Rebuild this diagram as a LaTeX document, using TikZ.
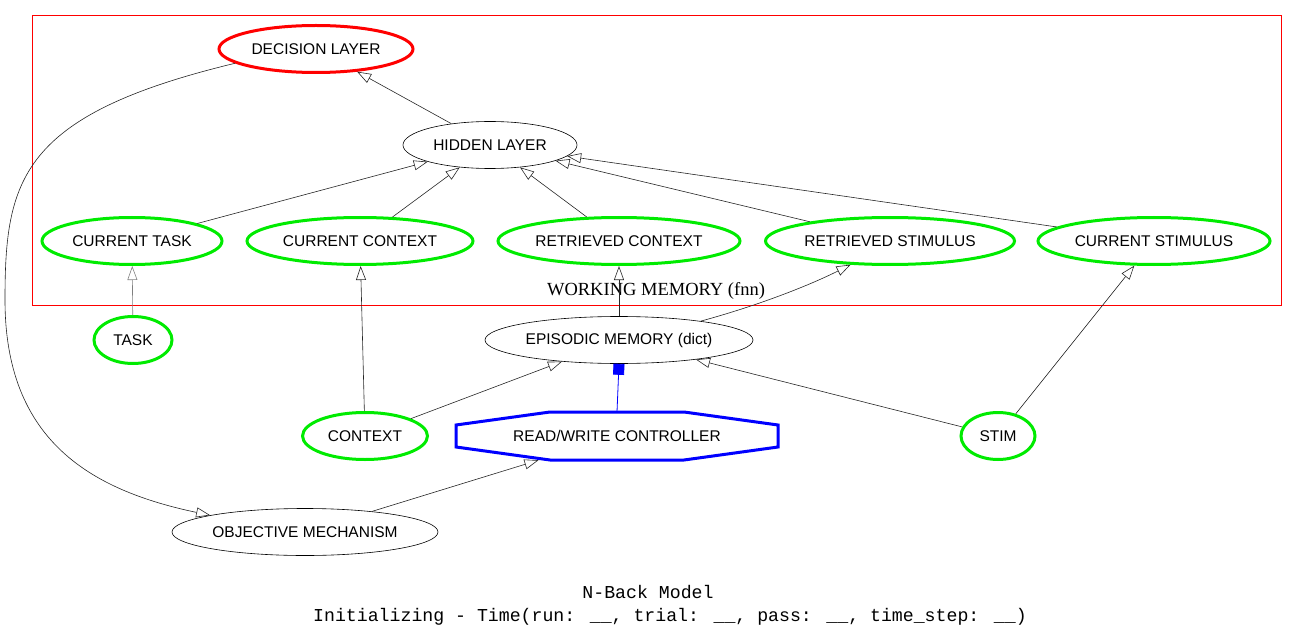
\documentclass[tikz,border=0pt]{standalone}
\usepackage{fontspec}
\setmainfont{Liberation Sans}
\newfontfamily\serifl{Liberation Serif}
\newfontfamily\monol{Liberation Mono}
\usetikzlibrary{arrows.meta,shapes.geometric}
\definecolor{gvgreen}{RGB}{0,235,0}
\definecolor{gvred}{RGB}{255,0,0}
\definecolor{gvblue}{RGB}{0,0,255}
\begin{document}
\begin{tikzpicture}[x=1pt,y=-1pt,
  nd/.style={ellipse, draw, line width=0.6pt, inner sep=0pt, minimum height=47pt,
             font=\fontsize{15.5}{18}\selectfont},
  gn/.style={nd, draw=gvgreen, line width=3pt},
  rn/.style={nd, draw=gvred, line width=3pt},
  ed/.style={-{Triangle[open,length=14pt,width=10pt]}, line width=0.6pt, draw=black!85},
]
\useasboundingbox (0,0) rectangle (1297,644);

% cluster
\draw[gvred, line width=0.8pt] (32,15) rectangle (1281,305);
\node[font=\serifl\fontsize{18.5}{20}\selectfont, inner sep=0pt] (wm) at (656,291) {WORKING MEMORY (fnn)};

% nodes
\node[rn, minimum width=194pt] (dec) at (316,49) {DECISION LAYER};
\node[nd, minimum width=174pt] (hid) at (490,145) {HIDDEN LAYER};
\node[gn, minimum width=180pt] (ctask) at (132,241) {CURRENT TASK};
\node[gn, minimum width=226pt] (cctx) at (360,241) {CURRENT CONTEXT};
\node[gn, minimum width=242pt] (rctx) at (619,241) {RETRIEVED CONTEXT};
\node[gn, minimum width=249pt] (rstim) at (890,241) {RETRIEVED STIMULUS};
\node[gn, minimum width=232pt] (cstim) at (1154,241) {CURRENT STIMULUS};
\node[gn, minimum width=78pt] (task) at (133,340) {TASK};
\node[nd, minimum width=268pt] (epi) at (619,340) {EPISODIC MEMORY (dict)};
\node[gn, minimum width=125pt] (ctx) at (365,436) {CONTEXT};
\node[gn, minimum width=74pt] (stim) at (998,436) {STIM};
\node[nd, minimum width=266pt] (obj) at (305,532) {OBJECTIVE MECHANISM};

% octagon controller
\draw[gvblue, line width=3pt, line join=miter]
  (550,412) -- (684,412) -- (778,425) -- (778,447) -- (684,460) -- (550,460) -- (456,447) -- (456,425) -- cycle;
\node[rectangle, inner sep=0pt, minimum width=322pt, minimum height=48pt,
      font=\fontsize{15.5}{18}\selectfont] (rw) at (617,436) {READ/WRITE CONTROLLER};

% edges
\draw[ed] (hid) -- (dec);
\draw[ed] (ctask) -- (hid);
\draw[ed] (cctx) -- (hid);
\draw[ed] (rctx) -- (hid);
\draw[ed] (rstim) -- (hid);
\draw[ed] (cstim) -- (hid);
\draw[ed, draw=black!50] (task) -- (ctask);
\draw[ed] (ctx) -- (cctx);
\draw[ed] (epi) -- (rctx);
\draw[ed] (epi.13) .. controls (760,305) and (810,285) .. (rstim.211);
\draw[ed] (stim) -- (cstim);
\draw[ed] (ctx) -- (epi);
\draw[ed] (stim) -- (epi);
\draw[ed] (obj) -- (rw);
\draw[gvblue, line width=0.8pt, -{Square[length=11pt,width=11pt]}] (rw.north) -- (epi.south);
\draw[ed] (dec.190) .. controls (20,115) and (5,180) .. (5,300)
                    .. controls (5,440) and (90,490) .. (obj.170);

% title
\node[font=\monol\fontsize{18.2}{22}\selectfont, inner sep=0pt] (t1) at (648,592) {N-Back Model};
\node[font=\monol\fontsize{18.2}{22}\selectfont, inner sep=0pt] (t2) at (670,617)
  {Initializing - Time(run: \_\_, trial: \_\_, pass: \_\_, time\_step: \_\_)};
\end{tikzpicture}
\end{document}
